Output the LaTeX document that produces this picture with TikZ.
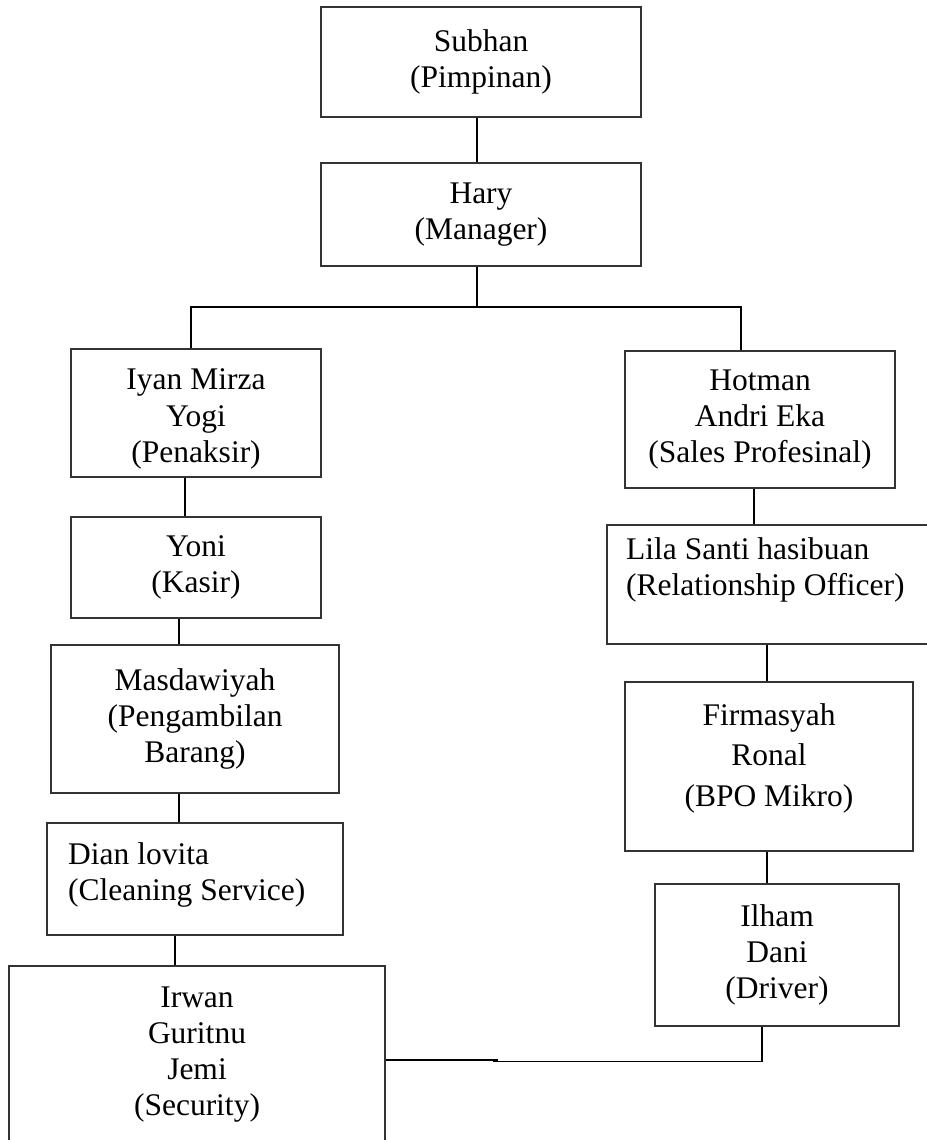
\documentclass[tikz,border=0pt]{standalone}
\usepackage{fontspec}
\setmainfont{Liberation Serif}
\begin{document}
\begin{tikzpicture}[x=1pt,y=-1pt,
  box/.style={draw=black!80, line width=1.1pt, inner sep=0pt, align=center,
    font=\fontsize{31.5}{36.2}\selectfont},
  txt/.style={inner sep=0pt, align=left, font=\fontsize{31.5}{36.2}\selectfont},
  link/.style={draw=black, line width=1.4pt}]
\useasboundingbox (0,0) rectangle (926,1140);
\fill[white] (0,0) rectangle (926,1140);

% boxes
\node[box, minimum width=320pt, minimum height=110pt] (subhan) at (481,62) {Subhan\\(Pimpinan)};
\node[box, minimum width=320pt, minimum height=103pt] (hary) at (481,214.5) {Hary\\(Manager)};
\node[box, minimum width=250pt, minimum height=128pt] (iyan) at (196,413) {};
\node[txt, align=center] (iyantxt) at (196,419) {Iyan Mirza\\Yogi\\(Penaksir)};
\node[box, minimum width=250pt, minimum height=101pt] (yoni) at (196,567.5) {Yoni\\(Kasir)};
\node[box, minimum width=288pt, minimum height=148pt] (masd) at (195,719) {Masdawiyah\\(Pengambilan\\Barang)};
\node[box, minimum width=296pt, minimum height=112pt] (dian) at (195,879) {};
\node[txt, anchor=north west] (diantxt) at (68,842) {Dian lovita\\(Cleaning Service)};
\node[box, minimum width=376pt, minimum height=177pt] (irwan) at (197,1054.5) {Irwan\\Guritnu\\Jemi\\(Security)};
\node[box, minimum width=270pt, minimum height=137pt] (hotman) at (760,419.5) {Hotman\\Andri Eka\\(Sales Profesinal)};
\node[box, minimum width=321pt, minimum height=119pt] (lila) at (767.5,584.5) {};
\node[txt, anchor=north west] (lilatxt) at (626,537) {Lila Santi hasibuan\\(Relationship Officer)};
\node[box, minimum width=288pt, minimum height=169pt] (firm) at (769,766.5) {};
\node[txt, align=center, font=\fontsize{31.5}{40.5}\selectfont] (firmtxt) at (769,758) {Firmasyah\\Ronal\\(BPO Mikro)};
\node[box, minimum width=244pt, minimum height=142pt] (ilham) at (777,955) {Ilham\\Dani\\(Driver)};

% connector coordinates
\coordinate (busM) at (477,307);
\coordinate (busL) at (191,307);
\coordinate (busR) at (741,307);
\coordinate (cA) at (185,0);
\coordinate (cB) at (179,0);
\coordinate (cC) at (175,0);
\coordinate (cD) at (754,0);
\coordinate (cE) at (767,0);
\coordinate (j1) at (498,1060);
\coordinate (j2) at (493,1061.5);
\coordinate (j3) at (762,1061.5);

% connectors
\draw[link] (subhan.south -| busM) -- (hary.north -| busM);
\draw[link] (hary.south -| busM) -- (busM);
\draw[link] (iyan.north -| busL) -- (busL) -- (busR) -- (hotman.north -| busR);
\draw[link] (iyan.south -| cA) -- (yoni.north -| cA);
\draw[link] (yoni.south -| cB) -- (masd.north -| cB);
\draw[link] (masd.south -| cB) -- (dian.north -| cB);
\draw[link] (dian.south -| cC) -- (irwan.north -| cC);
\draw[link] (hotman.south -| cD) -- (lila.north -| cD);
\draw[link] (lila.south -| cE) -- (firm.north -| cE);
\draw[link] (firm.south -| cE) -- (ilham.north -| cE);
\draw[link] (irwan.east |- j1) -- (j1);
\draw[link] (j2) -- (j3) -- (ilham.south -| j3);
\end{tikzpicture}
\end{document}
